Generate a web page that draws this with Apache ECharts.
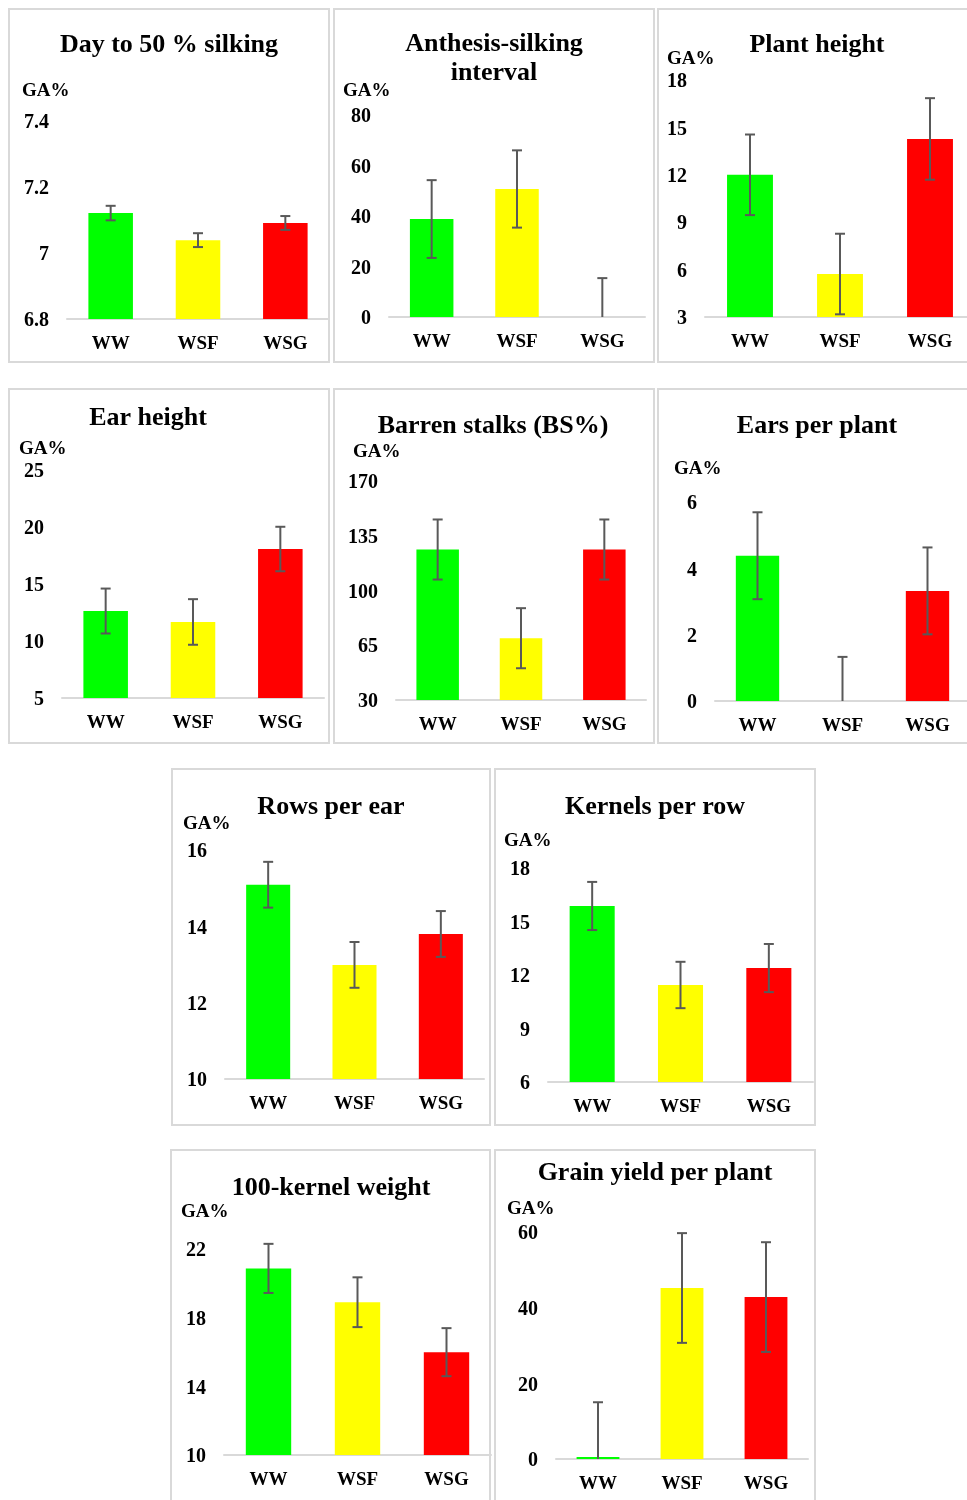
<!DOCTYPE html>
<html>
<head>
<meta charset="utf-8">
<title>Genetic advance (GA%) of maize traits</title>
<script src="https://cdn.jsdelivr.net/npm/echarts@6/dist/echarts.min.js"></script>
<style>
  html, body { margin: 0; padding: 0; background: #ffffff; }
  #chart { width: 967px; height: 1500px; }
</style>
</head>
<body>
<div id="chart"></div>
<script>
// Water regimes shown in every panel
const categories = ['WW', 'WSF', 'WSG'];

// GA% means and their error ranges per trait
const silkingValues = [7.121, 7.039, 7.091];
const silkingErrors = [0.022, 0.021, 0.021];
const silkingTicks = [6.8, 7, 7.2, 7.4];

const asiValues = [38.8, 50.7, 0];
const asiErrors = [15.4, 15.3, 15.4];
const asiTicks = [0, 20, 40, 60, 80];

const plantHeightValues = [12.0, 5.72, 14.27];
const plantHeightErrors = [2.55, 2.55, 2.58];
const plantHeightTicks = [3, 6, 9, 12, 15, 18];

const earHeightValues = [12.63, 11.67, 18.07];
const earHeightErrors = [1.97, 2.0, 1.95];
const earHeightTicks = [5, 10, 15, 20, 25];

const barrenValues = [126.2, 69.5, 126.2];
const barrenErrors = [19.2, 19.2, 19.2];
const barrenTicks = [30, 65, 100, 135, 170];

const earsValues = [4.38, 0, 3.32];
const earsErrors = [1.31, 1.33, 1.31];
const earsTicks = [0, 2, 4, 6];

const rowsValues = [15.09, 12.99, 13.80];
const rowsErrors = [0.6, 0.6, 0.6];
const rowsTicks = [10, 12, 14, 16];

const kernelsRowValues = [15.87, 11.44, 12.39];
const kernelsRowErrors = [1.35, 1.3, 1.35];
const kernelsRowTicks = [6, 9, 12, 15, 18];

const kernelWeightValues = [20.87, 18.9, 15.99];
const kernelWeightErrors = [1.43, 1.45, 1.4];
const kernelWeightTicks = [10, 14, 18, 22];

const yieldValues = [0.5, 45.2, 42.8];
const yieldErrors = [14.5, 14.5, 14.5];
const yieldTicks = [0, 20, 40, 60];

const traits = [
  { title: 'Day to 50 % silking', values: silkingValues, errors: silkingErrors, ticks: silkingTicks },
  { title: 'Anthesis-silking\ninterval', values: asiValues, errors: asiErrors, ticks: asiTicks },
  { title: 'Plant height', values: plantHeightValues, errors: plantHeightErrors, ticks: plantHeightTicks },
  { title: 'Ear height', values: earHeightValues, errors: earHeightErrors, ticks: earHeightTicks },
  { title: 'Barren stalks (BS%)', values: barrenValues, errors: barrenErrors, ticks: barrenTicks },
  { title: 'Ears per plant', values: earsValues, errors: earsErrors, ticks: earsTicks },
  { title: 'Rows per ear', values: rowsValues, errors: rowsErrors, ticks: rowsTicks },
  { title: 'Kernels per row', values: kernelsRowValues, errors: kernelsRowErrors, ticks: kernelsRowTicks },
  { title: '100-kernel weight', values: kernelWeightValues, errors: kernelWeightErrors, ticks: kernelWeightTicks },
  { title: 'Grain yield per plant', values: yieldValues, errors: yieldErrors, ticks: yieldTicks }
];

// Panel layout: frame box, plot area, title centre and "GA%" label anchor
const layout = [
  { frame: [9, 9, 329, 362],     plot: [67, 121, 329, 319],   title: [169, 45],  ga: [22, 91] },
  { frame: [334, 9, 654, 362],   plot: [389, 115, 645, 317],  title: [494, 59],  ga: [343, 91] },
  { frame: [658, 9, 990, 362],   plot: [705, 80, 975, 317],   title: [817, 45],  ga: [667, 59] },
  { frame: [9, 389, 329, 743],   plot: [62, 470, 324, 698],   title: [148, 418], ga: [19, 449] },
  { frame: [334, 389, 654, 743], plot: [396, 481, 646, 700],  title: [493, 426], ga: [353, 452] },
  { frame: [658, 389, 990, 743], plot: [715, 502, 970, 701],  title: [817, 426], ga: [674, 469] },
  { frame: [172, 769, 490, 1125], plot: [225, 850, 484, 1079], title: [331, 807], ga: [183, 824] },
  { frame: [495, 769, 815, 1125], plot: [548, 868, 813, 1082], title: [655, 807], ga: [504, 841] },
  { frame: [171, 1150, 490, 1520], plot: [224, 1249, 491, 1455], title: [331, 1188], ga: [181, 1212] },
  { frame: [495, 1150, 815, 1520], plot: [556, 1232, 808, 1459], title: [655, 1173], ga: [507, 1209] }
];

const barColors = ['#00ff00', '#ffff00', '#ff0000'];
const serif = '"Liberation Serif", "Times New Roman", serif';
const frameColor = '#d9d9d9';
const errColor = '#595959';

const grids = [], xAxes = [], yAxes = [], series = [], graphics = [];

traits.forEach((t, k) => {
  const L = layout[k];
  const [x0, y0, x1, y1] = L.plot;
  grids.push({
    left: x0, top: y0, width: x1 - x0, height: y1 - y0,
    containLabel: false, outerBoundsMode: 'none'
  });
  xAxes.push({
    type: 'category', gridIndex: k, data: categories,
    axisLine: { show: true, lineStyle: { color: frameColor, width: 2 } },
    axisTick: { show: false },
    axisLabel: { color: '#000', fontFamily: serif, fontWeight: 'bold', fontSize: 19, margin: 16 }
  });
  yAxes.push({
    type: 'value', gridIndex: k,
    min: t.ticks[0], max: t.ticks[t.ticks.length - 1],
    axisLine: { show: false },
    axisTick: { show: false, customValues: t.ticks },
    splitLine: { show: false },
    axisLabel: {
      color: '#000', fontFamily: serif, fontWeight: 'bold', fontSize: 20, margin: 18,
      customValues: t.ticks,
      formatter: v => '{t|' + String(+v.toFixed(2)) + '}',
      rich: {
        t: {
          color: '#000', fontFamily: serif, fontWeight: 'bold', fontSize: 20,
          padding: [4, 0, 0, 0]
        }
      }
    }
  });
  series.push({
    type: 'bar', xAxisIndex: k, yAxisIndex: k,
    barWidth: '51%',
    data: t.values.map((v, i) => ({ value: v, itemStyle: { color: barColors[i] } })),
    silent: true
  });
  series.push({
    type: 'custom', xAxisIndex: k, yAxisIndex: k, z: 5, silent: true,
    data: t.values.map((v, i) => [i, v, t.errors[i]]),
    renderItem: (params, api) => {
      const idx = api.value(0), v = api.value(1), e = api.value(2);
      const top = api.coord([idx, v + e]);
      const bot = api.coord([idx, v - e]);
      const base = params.coordSys.y + params.coordSys.height;
      let by = bot[1], lowerCap = true;
      if (by > base) { by = base; lowerCap = false; }
      const x = top[0], hw = 5;
      const style = { stroke: errColor, lineWidth: 2 };
      const children = [
        { type: 'line', shape: { x1: x, y1: top[1], x2: x, y2: by }, style },
        { type: 'line', shape: { x1: x - hw, y1: top[1], x2: x + hw, y2: top[1] }, style }
      ];
      if (lowerCap) children.push({ type: 'line', shape: { x1: x - hw, y1: by, x2: x + hw, y2: by }, style });
      return { type: 'group', children };
    }
  });
  const [fx0, fy0, fx1, fy1] = L.frame;
  graphics.push({
    type: 'rect', silent: true, z: 0,
    shape: { x: fx0, y: fy0, width: fx1 - fx0, height: fy1 - fy0 },
    style: { fill: null, stroke: frameColor, lineWidth: 2 }
  });
  graphics.push({
    type: 'text', silent: true, z: 10,
    x: L.title[0], y: L.title[1],
    style: {
      text: t.title, fill: '#000', align: 'center', verticalAlign: 'middle',
      font: 'bold 26px ' + serif, lineHeight: 29
    }
  });
  graphics.push({
    type: 'text', silent: true, z: 10,
    x: L.ga[0], y: L.ga[1],
    style: { text: 'GA%', fill: '#000', align: 'left', verticalAlign: 'middle', font: 'bold 19px ' + serif }
  });
});

const chart = echarts.init(document.getElementById('chart'), null, { renderer: 'canvas' });
chart.setOption({
  backgroundColor: '#ffffff',
  animation: false,
  grid: grids,
  xAxis: xAxes,
  yAxis: yAxes,
  series: series,
  graphic: graphics
});
</script>
</body>
</html>
